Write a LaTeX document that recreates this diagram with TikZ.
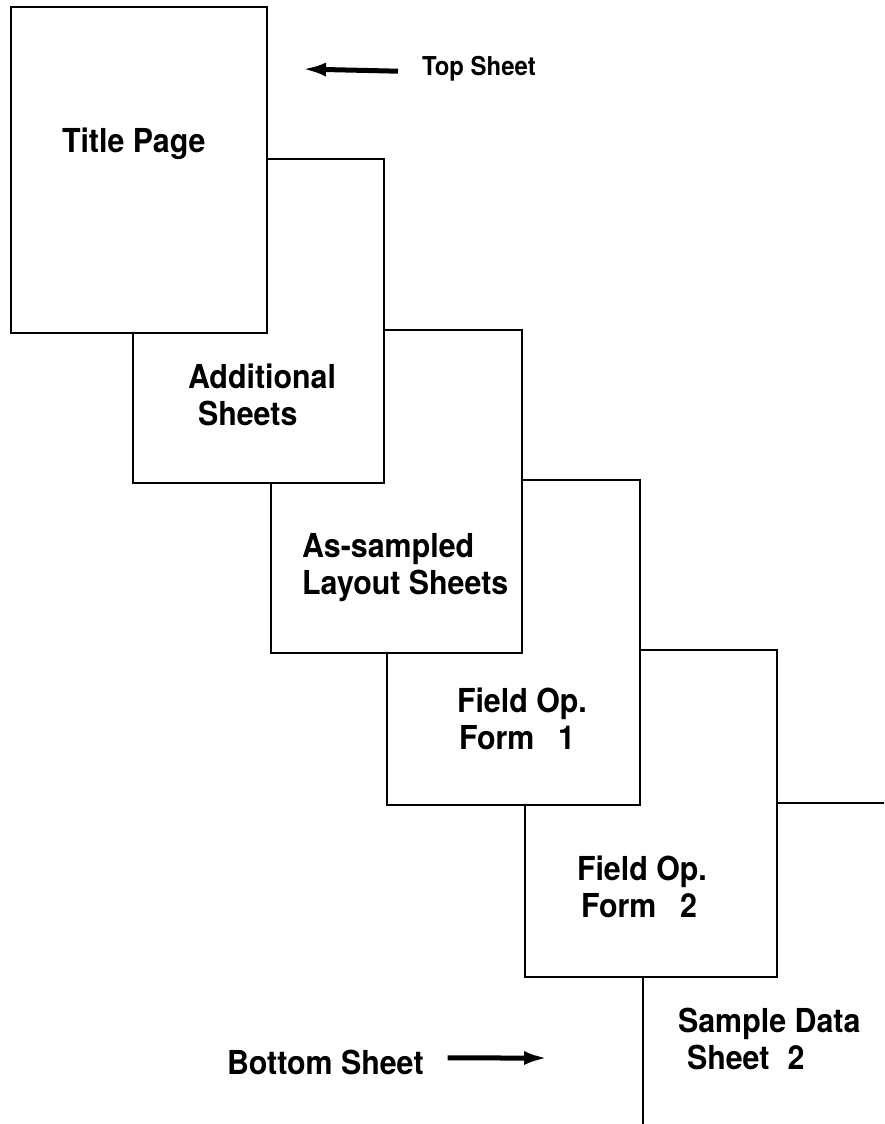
\documentclass[tikz,border=0pt]{standalone}
\usepackage{fontspec}
\setmainfont{TeX Gyre Heros}[FakeStretch=0.92]
\usetikzlibrary{arrows.meta}
\begin{document}
\begin{tikzpicture}[x=1pt,y=-1pt,
  sheet/.style={draw=black, fill=white, line width=2.2pt, rectangle, outer sep=0pt, inner sep=0pt, anchor=north west},
  lbl/.style={inner sep=0pt, outer sep=0pt, align=left, anchor=north west, font=\fontsize{33}{37}\selectfont\bfseries},
  single/.style={inner sep=0pt, outer sep=0pt, anchor=base west, font=\fontsize{33}{37}\selectfont\bfseries},
  bigarrow/.style={line width=5pt, -{Latex[length=24pt,width=14pt]}}
]
\clip (0,0) rectangle (884,1124);
\fill[white] (0,0) rectangle (884,1124);
% sheets, back to front
\node[sheet, minimum width=400pt, minimum height=400pt] (sample) at (643,803) {};
\node[sheet, minimum width=252pt, minimum height=327pt] (form2) at (525,650) {};
\node[sheet, minimum width=253pt, minimum height=325pt] (form1) at (387,480) {};
\node[sheet, minimum width=251pt, minimum height=323pt] (layout) at (271,330) {};
\node[sheet, minimum width=251pt, minimum height=324pt] (additional) at (133,159) {};
\node[sheet, minimum width=256pt, minimum height=326pt] (title) at (11,7) {};
% labels
\node[single] (titletext) at (62,152) {Title Page};
\node[lbl] (addtext) at (188,364) {Additional\\\hspace*{10pt}Sheets};
\node[lbl] (layouttext) at (302,533) {As-sampled\\Layout Sheets};
\node[lbl] (form1text) at (457,688) {Field Op.\\\hspace*{2pt}Form\hspace{0.72em}1};
\node[lbl] (form2text) at (577,856) {Field Op.\\\hspace*{4pt}Form\hspace{0.72em}2};
\node[lbl] (sampletext) at (678,1008) {Sample Data\\\hspace*{9pt}Sheet\hspace{0.55em}2};
% top / bottom markers
\node[inner sep=0pt, outer sep=0pt, anchor=base west, font=\fontsize{26}{30}\selectfont\bfseries] (topsheet) at (422,76) {Top Sheet};
\node[single] (bottomsheet) at (227,1074) {Bottom Sheet};
\coordinate (toptip) at (302,69);
\coordinate (bottomtip) at (548,1058);
\draw[bigarrow] ([xshift=-24pt,yshift=-2pt]topsheet.west) -- (toptip);
\draw[bigarrow] ([xshift=24pt,yshift=4pt]bottomsheet.east) -- (bottomtip);
\end{tikzpicture}
\end{document}
